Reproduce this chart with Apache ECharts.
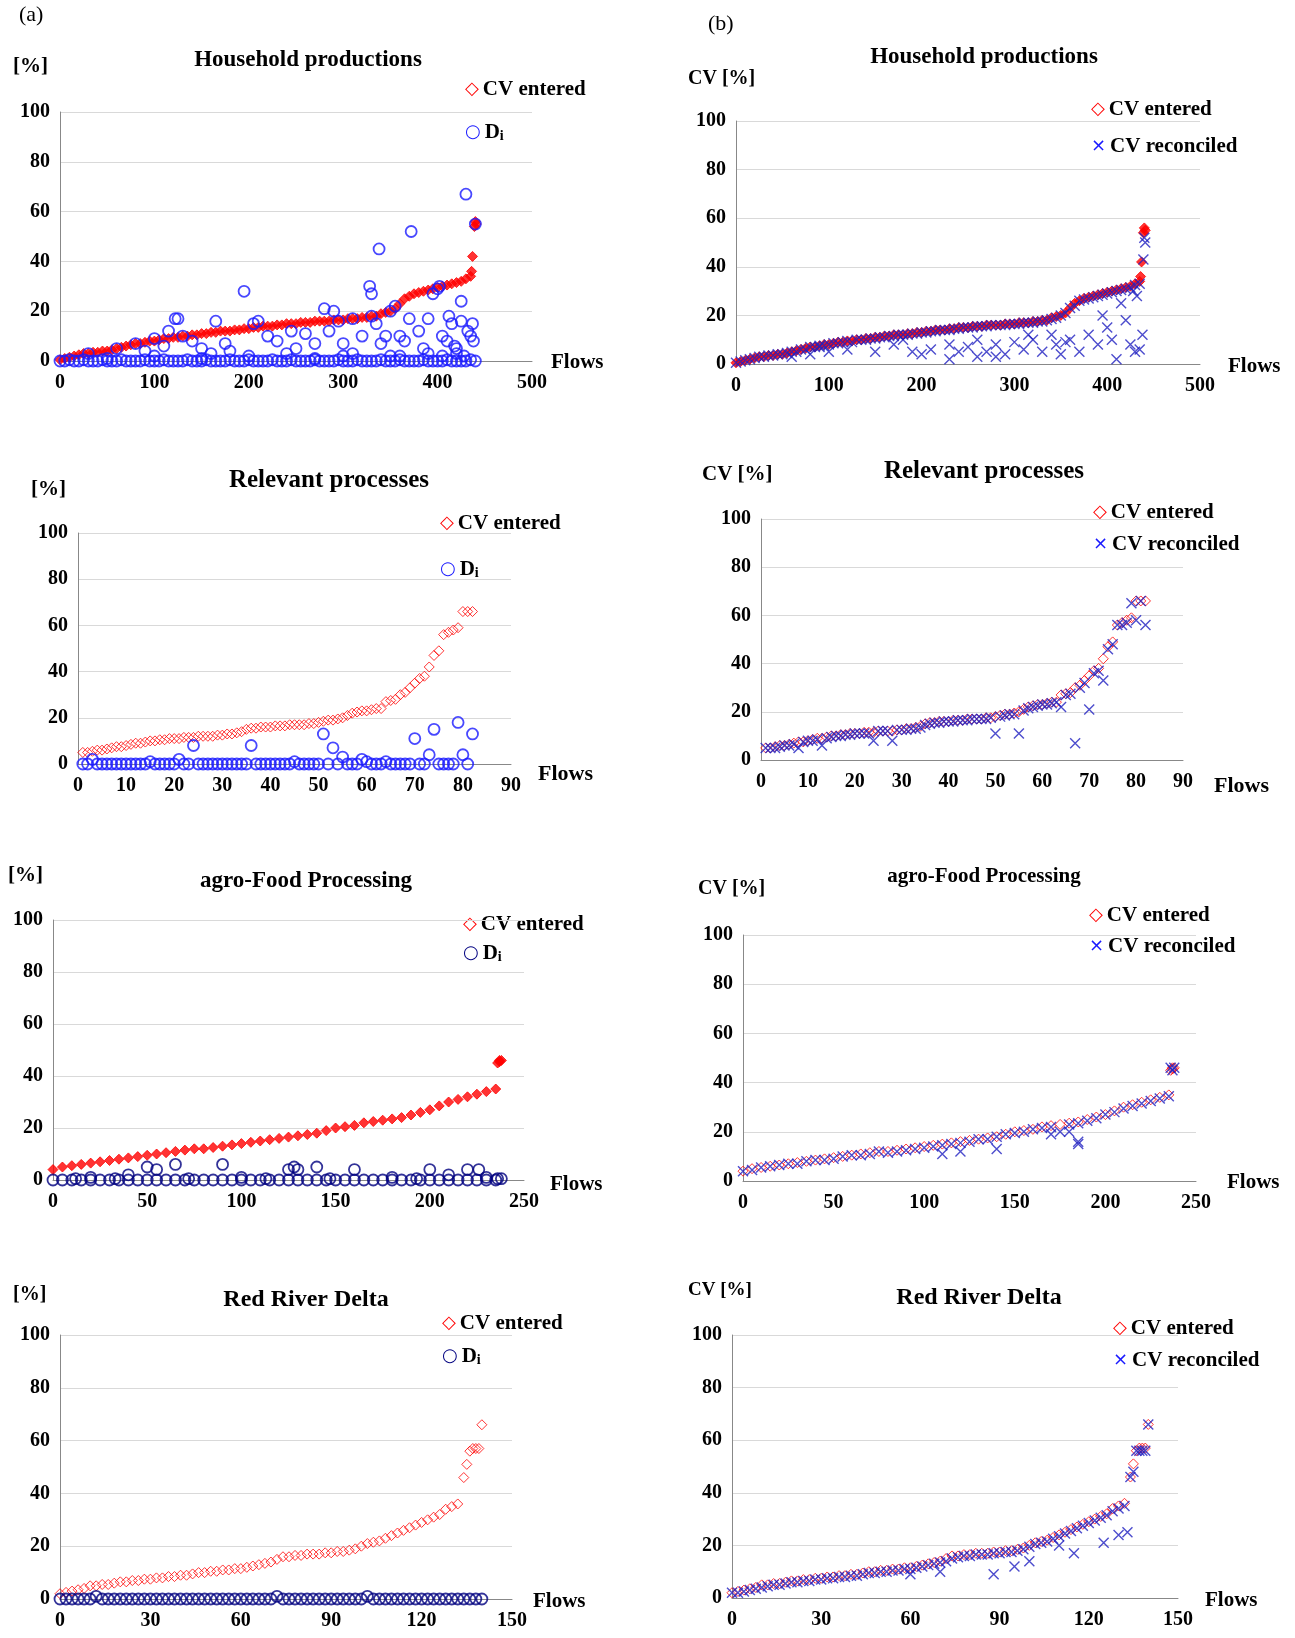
<!DOCTYPE html>
<html>
<head>
<meta charset="utf-8">
<script src="https://cdn.jsdelivr.net/npm/echarts@6/dist/echarts.min.js"></script>
<style>html,body{margin:0;background:#fff}#c{width:1295px;height:1638px}</style>
</head>
<body>
<div id="c"></div>
<script>
// ---- Household productions (values every 5 flows) ----
var hhEntered = [0.5,1,1.5,2,2.5, 3,3,3.5,3.5,4,4,4.5,5, 5.5,6,6.5,7,7,7.5,8,8,
  8.5,9,9,9.5,9.5,10,10,10.5,10.5,11, 11,11.5,11.5,12,12,12,12.5,12.5,13,13,
  13.5,13.5,14,14,14,14.5,14.5,15,15,15, 15.5,15.5,15.5,16,16,16,16,16.5,16.5,16.5,
  17,17,17,17.5,17.5,18,18,19,19.5,20, 21,23,25,26,27,27.5,28,28.5,29,29.5,
  30,30.5,31,31.5,32,33,34];
var hhEnteredTail = [[436,36],[437,42],[439,54],[440,56],[441,55]];
var hhDiZero = [0,0,0.5,0,0,0.5,0,0,0,0.5,0,0,0,0.5,0,0,0,0,0.5,0,0,0,0.5,0,0,0,0,0.5,0,0,
  0,0.5,0,0,0,0,0.5,0,0,0,0.5,0,0,0,0,0.5,0,0,0,0.5,0,0,0,0,0.5,0,0,0,0,0.5,
  0,0,0,0.5,0,0,0,0,0.5,0,0,0,0.5,0,0,0,0,0.5,0,0,0,0,0.5,0,0,0,0,0.5,0];
var hhDiScatter = [[122,17],[125,17],[165,16],[195,28],[205,15],[210,16],[115,12],[100,9],[80,7],[60,5],
  [30,3],[140,8],[150,5],[175,7],[180,4],[220,10],[230,8],[245,12],[250,5],[260,11],[270,7],[280,21],
  [285,12],[290,20],[295,16],[300,7],[310,17],[320,10],[330,18],[335,15],[328,30],[330,27],[340,7],
  [345,10],[338,45],[350,20],[355,22],[360,10],[365,8],[370,17],[372,52],[380,12],[385,5],[390,17],
  [395,27],[400,29],[402,30],[405,10],[410,8],[415,15],[420,5],[425,24],[425,16],[430,67],[432,12],
  [435,10],[438,8],[440,55],[437,15],[428,2],[420,3],[300,2],[200,2],[100,2],[50,1],[150,1],[270,1],
  [350,2],[390,3],[110,6],[90,4],[130,10],[160,3],[240,3],[310,3],[360,2],[405,2],[412,18],[418,6]];
var hhRecon = [0.5,1,1.5,2,2.5, 3,3,3.5,3.5,4,4,4.5,5, 5,6,6,7,7,7.5,7.5,8,
  8.5,8.5,9,9.5,9,10,10,10,10.5,10.5, 11,11,11.5,11.5,12,12,12,12.5,12.5,13,
  13,13.5,13.5,14,14,14,14.5,14.5,15,15, 15,15.5,15.5,15.5,16,16,16,16,16.5,16.5,
  16.5,17,17,17,17.5,17.5,18,18.5,19,20, 21,23,24,26,26.5,27,27.5,28,28.5,29,
  29.5,30,30.5,31,31.5,32.5,33];
var hhReconLow = [[150,5],[170,8],[190,5],[200,4],[210,6],[230,8],[240,5],[250,7],[260,10],[270,5],
  [280,8],[290,4],[300,9],[310,6],[320,10],[330,5],[340,12],[345,8],[350,4],[360,10],[370,5],[380,12],
  [390,8],[400,15],[405,10],[410,2],[420,18],[425,8],[430,5],[432,28],[435,6],[438,12],[440,52],
  [441,50],[439,43],[120,6],[100,5],[80,4],[60,3],[90,7],[230,2],[280,3],[180,10],[260,3],
  [315,12],[355,9],[395,20],[415,25],[428,30]];

// ---- Relevant processes (every flow) ----
var relEntered = [5,5,5.5,6,6,6.5,7,7.5,7.5,8, 8.5,9,9,9.5,10,10,10.5,10.5,11,11,
  11,11.5,11.5,11.5,12,12,12,12,12.5,12.5, 13,13,13.5,14,15,15.5,15.5,16,16,16,
  16.5,16.5,16.5,17,17,17,17,17.5,17.5,18, 18.5,19,19,19.5,20,21,22,22.5,23,23,
  23.5,24,24,27,27.5,28,30,31,33,35, 37,38,42,47,49,56,57,58,59,66,66,66];
var relDi = [0,0,2,0,0,0,0,0,0,0, 0,0,0,0,1,0,0,0,0,0, 2,0,0,8,0,0,0,0,0,0,
  0,0,0,0,0,8,0,0,0,0, 0,0,0,0,1,0,0,0,0,0, 13,0,7,0,3,0,0,0,2,1,
  0,0,0,1,0,0,0,0,0,11, 0,0,4,15,0,0,0,0,18,4,0,13];
var relRecon = [5,5,5,5.5,6,6,6.5,5,7.5,8, 8,8.5,6,9,9.5,10,10,10.5,10.5,11,
  11,11,11,8,12,12,12,8,12.5,12.5, 12.5,13,13,13.5,14.5,15,15.5,15.5,16,16,
  16,16.5,16.5,16.5,17,17,17,17,17.5,11, 18,18.5,19,19,11,20.5,21.5,22,22.5,23,
  23,23.5,24,22,27,27.5,7,30,32,21, 36,37,33,46,48,56,56,57,65,58,66,56];

// ---- agro-Food Processing (values every 5 flows) ----
var agroEntered = [4,5,5.5,6,6.5,7,7.5,8,8.5,9, 9.5,10,10.5,11,11.5,12,12,12.5,13,13.5,
  14,14.5,15,15.5,16,16.5,17,17.5,18,19, 20,20.5,21,22,22.5,23,23.5,24,25,26,
  27,28.5,30,31,32,33,34,35];
var agroEnteredTail = [[236,45],[237,46],[238,46],[237,45.5]];
var agroDiZero = [0,0,0,0,0,0,0,0,0,0, 0,0,0,0,0,0,0,0,0,0, 0,0,0,0,0,0,0,0,0,0,
  0,0,0,0,0,0,0,0,0,0, 0,0,0,0,0,0,0,0];
var agroDiScatter = [[50,5],[65,6],[90,6],[125,4],[130,4],[140,5],[160,4],[220,4],[200,4],[55,4],
  [40,2],[100,1],[180,1],[210,2],[230,1],[20,1],[128,5],[12,0.5],[33,0.5],[72,0.5],[113,0.5],
  [147,0.5],[193,0.5],[226,4],[236,0.5],[238,0.5]];
var agroRecon = [4,4.5,5.5,6,6.5,7,7,8,8.5,8.5, 9,10,10.5,10.5,11,12,11.5,12,12.5,13,
  13.5,14,14.5,15,15.5,16,17,17,18,19, 19.5,20,21,21.5,22,20,23,23.5,24.5,25.5,
  27,28,29.5,30.5,31.5,32.5,33.5,34.5];
var agroReconOut = [[185,15],[185,16],[180,20],[170,19],[120,12],[140,13],[110,11],[236,46],[237,45],[238,46]];

// ---- Red River Delta (values every 2 flows) ----
var rrEntered = [2,2.5,3,3.5,4,5,5,5.5,5.5,6, 6.5,6.5,7,7,7.5,7.5,8,8,8.5,8.5,
  9,9,9.5,10,10,10.5,10.5,11,11,11.5, 11.5,12,12.5,13,13.5,14,15,16,16,16.5,
  16.5,17,17,17,17.5,17.5,18,18,18.5,19, 20,21,21.5,22,23,24,25,26,27,28,
  29,30,31,32,34,35,36];
var rrEnteredTail = [[134,46],[135,51],[136,56],[137,57],[138,57],[139,57],[140,66]];
var rrDi = [0,0,0,0,0,0,1,0,0,0, 0,0,0,0,0,0,0,0,0,0, 0,0,0,0,0,0,0,0,0,0,
  0,0,0,0,0,0,1,0,0,0, 0,0,0,0,0,0,0,0,0,0, 0,1,0,0,0,0,0,0,0,0,
  0,0,0,0,0,0,0,0,0,0,0];
var rrRecon = [2,2,2.5,3,3.5,4,4.5,5,5,5.5, 6,6,6.5,6.5,7,7,7.5,7.5,8,8,
  8.5,8.5,9,9.5,9.5,10,10,10.5,10.5,11, 11,11.5,12,12.5,13,13.5,14,15,15.5,16,
  16,16.5,16.5,16.5,17,17,17.5,17.5,18,18.5, 19.5,20.5,21,21.5,22.5,23.5,24.5,25.5,26.5,27.5,
  28.5,29.5,30.5,31.5,33,34,35];
var rrReconOut = [[100,14],[115,17],[125,21],[130,24],[133,25],[95,12],[88,9],[70,10],[60,9],[110,20],
  [134,46],[135,48],[136,56],[137,56],[138,56],[139,56],[140,66]];

function stepped(vals, step) { return vals.map(function (v, i) { return [i * step, v]; }); }
function stepped1(vals) { return vals.map(function (v, i) { return [i + 1, v]; }); }

var S = 1295 / 1240; // layout was measured on a 1240-wide view
function px(v) { return Math.round(v * S); }

var RED = '#ff0000', BLUE = '#1a1aff', NAVY = '#000080', XBLUE = '#2020c0';
var XPATH = 'path://M0,0L10,10M10,0L0,10';
var FONT = 'Liberation Serif';

var panels = [
  {g: [57, 107, 452, 238], max: 500, iv: 100, s: [
    ['dia', stepped(hhEntered, 5).concat(hhEnteredTail), true],
    ['cir', stepped(hhDiZero, 5).concat(hhDiScatter), BLUE]]},
  {g: [705, 116, 444, 233], max: 500, iv: 100, s: [
    ['dia', stepped(hhEntered, 5).concat(hhEnteredTail), true],
    ['x', stepped(hhRecon, 5).concat(hhReconLow)]]},
  {g: [75, 510, 415, 221], max: 90, iv: 10, s: [
    ['dia', stepped1(relEntered), false],
    ['cir', stepped1(relDi), BLUE]]},
  {g: [729, 497, 404, 231], max: 90, iv: 10, s: [
    ['dia', stepped1(relEntered), false],
    ['x', stepped1(relRecon)]]},
  {g: [51, 881, 451, 249], max: 250, iv: 50, s: [
    ['dia', stepped(agroEntered, 5).concat(agroEnteredTail), true],
    ['cir', stepped(agroDiZero, 5).concat(agroDiScatter), NAVY]]},
  {g: [711, 895, 434, 236], max: 250, iv: 50, s: [
    ['dia', stepped(agroEntered, 5).concat(agroEnteredTail), false],
    ['x', stepped(agroRecon, 5).concat(agroReconOut)]]},
  {g: [57, 1278, 433, 253], max: 150, iv: 30, s: [
    ['dia', stepped(rrEntered, 2).concat(rrEnteredTail), false],
    ['cir', stepped(rrDi, 2), NAVY]]},
  {g: [701, 1278, 427, 252], max: 150, iv: 30, s: [
    ['dia', stepped(rrEntered, 2).concat(rrEnteredTail), false],
    ['x', stepped(rrRecon, 2).concat(rrReconOut)]]}
];

var label = {fontFamily: FONT, fontWeight: 'bold', fontSize: px(19), color: '#000'};
var grids = [], xAxes = [], yAxes = [], series = [];
panels.forEach(function (p, k) {
  grids.push({left: px(p.g[0]), top: px(p.g[1]), width: px(p.g[2]), height: px(p.g[3])});
  xAxes.push({gridIndex: k, type: 'value', min: 0, max: p.max, interval: p.iv,
    axisLine: {lineStyle: {color: '#888'}}, axisTick: {show: false},
    splitLine: {show: false}, axisLabel: Object.assign({margin: 12}, label)});
  yAxes.push({gridIndex: k, type: 'value', min: 0, max: 100, interval: 20,
    axisLine: {show: true, lineStyle: {color: '#888'}}, axisTick: {show: false},
    splitLine: {lineStyle: {color: '#d9d9d9'}}, axisLabel: Object.assign({margin: 10}, label)});
  p.s.forEach(function (s) {
    var o = {type: 'scatter', xAxisIndex: k, yAxisIndex: k, data: s[1], silent: true, z: s[0] == 'dia' ? 2 : 3};
    if (s[0] == 'dia') {
      o.symbol = 'diamond'; o.symbolSize = 10;
      o.itemStyle = {color: s[2] ? RED : 'rgba(0,0,0,0)', borderColor: RED, borderWidth: 1};
    } else if (s[0] == 'cir') {
      o.symbol = 'circle'; o.symbolSize = 11;
      o.itemStyle = {color: 'rgba(0,0,0,0)', borderColor: s[2], borderWidth: 1.8};
    } else {
      o.symbol = XPATH; o.symbolSize = 10;
      o.itemStyle = {color: 'rgba(0,0,0,0)', borderColor: XBLUE, borderWidth: 1.4};
    }
    series.push(o);
  });
});

function txt(x, y, s, size, extra) {
  return {type: 'text', left: px(x), top: px(y), style: Object.assign({text: s, fontFamily: FONT,
    fontWeight: 'bold', fontSize: px(size || 21), fill: '#000'}, extra || {})};
}
function ctr(x, y, s, size) {
  return {type: 'text', x: px(x), y: px(y), style: {text: s, fontFamily: FONT, fontWeight: 'bold',
    fontSize: px(size), fill: '#000', align: 'center', verticalAlign: 'middle'}};
}
var rich = {
  r: {fill: RED, fontSize: px(17), fontFamily: 'DejaVu Sans', padding: [0, 4, 0, 0]},
  b: {fill: BLUE, fontSize: px(17), fontFamily: 'DejaVu Sans', padding: [0, 4, 0, 0]},
  n: {fill: NAVY, fontSize: px(17), fontFamily: 'DejaVu Sans', padding: [0, 4, 0, 0]},
  t: {fontFamily: FONT, fontWeight: 'bold', fontSize: px(20), fill: '#000'},
  sub: {fontFamily: FONT, fontWeight: 'bold', fontSize: px(13), fill: '#000', verticalAlign: 'bottom', padding: [8, 0, 0, 0]}
};
function leg(x, y, s) {
  return {type: 'text', left: px(x), top: px(y), style: {text: s, rich: rich}};
}
var entered = '{r|◇}{t|CV entered}';
var recon = '{b|×}{t|CV reconciled}';
var diB = '{b|○}{t|D}{sub|i}', diN = '{n|○}{t|D}{sub|i}';

var graphic = [
  txt(18, 4, '(a)', 21, {fontWeight: 'normal'}), txt(678, 12, '(b)', 21, {fontWeight: 'normal'}),
  ctr(295, 57, 'Household productions', 22), ctr(942, 55, 'Household productions', 22),
  ctr(315, 461, 'Relevant processes', 24), ctr(942, 452, 'Relevant processes', 24),
  ctr(293, 844, 'agro-Food Processing', 22), ctr(942, 840, 'agro-Food Processing', 20),
  ctr(293, 1245, 'Red River Delta', 23), ctr(937, 1243, 'Red River Delta', 23),
  txt(12, 54, '[%]', 20), txt(659, 66, 'CV [%]', 19),
  txt(30, 459, '[%]', 20), txt(672, 444, 'CV [%]', 20),
  txt(8, 828, '[%]', 20), txt(668, 842, 'CV [%]', 19),
  txt(12, 1230, '[%]', 19), txt(659, 1227, 'CV [%]', 18),
  txt(528, 337, 'Flows', 20), txt(1176, 341, 'Flows', 20),
  txt(515, 731, 'Flows', 21), txt(1162, 742, 'Flows', 21),
  txt(527, 1124, 'Flows', 20), txt(1175, 1122, 'Flows', 20),
  txt(510, 1523, 'Flows', 20), txt(1154, 1522, 'Flows', 20),
  leg(445, 76, entered), leg(445, 117, diB),
  leg(1045, 95, entered), leg(1045, 130, recon),
  leg(421, 491, entered), leg(421, 535, diB),
  leg(1047, 481, entered), leg(1047, 511, recon),
  leg(443, 875, entered), leg(443, 903, diN),
  leg(1043, 867, entered), leg(1043, 896, recon),
  leg(423, 1257, entered), leg(423, 1289, diN),
  leg(1066, 1262, entered), leg(1066, 1293, recon)
];

var chart = echarts.init(document.getElementById('c'));
chart.setOption({animation: false, grid: grids, xAxis: xAxes, yAxis: yAxes, series: series, graphic: graphic});
</script>
</body>
</html>
